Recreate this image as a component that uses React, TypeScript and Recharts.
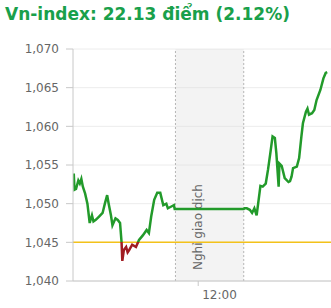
import { LineChart, Line, XAxis, YAxis, CartesianGrid, ReferenceLine, ReferenceArea } from 'recharts'

// intraday Vn-index, time of trade -> index points
const times = [
  '09:16', '09:17', '09:19', '09:22', '09:24', '09:26', '09:28', '09:31', '09:34', '09:37',
  '09:40', '09:42', '09:45', '09:49', '09:54', '09:57', '10:00', '10:02', '10:05', '10:07',
  '10:11', '10:14', '10:17', '10:19', '10:20', '10:22', '10:25', '10:27', '10:29', '10:33',
  '10:38', '10:42', '10:47', '10:52', '10:55', '10:58', '11:02', '11:06', '11:10', '11:14',
  '11:18', '11:20', '11:24', '11:28', '11:29', '11:30', '13:00', '13:01', '13:04', '13:08',
  '13:11', '13:14', '13:17', '13:19', '13:22', '13:25', '13:29', '13:32', '13:35', '13:38',
  '13:41', '13:43', '13:46', '13:47', '13:50', '13:54', '13:59', '14:01', '14:03', '14:05',
  '14:10', '14:13', '14:16', '14:18', '14:22', '14:24', '14:26', '14:30', '14:33', '14:36',
  '14:41', '14:45', '14:48', '14:50',
]
const points = [
  1053.9, 1051.8, 1051.9, 1053.0, 1052.6, 1053.2, 1052.2, 1051.3, 1050.0, 1047.5,
  1048.5, 1047.7, 1047.9, 1048.3, 1048.8, 1050.0, 1051.1, 1050.0, 1048.5, 1047.2,
  1048.1, 1047.9, 1047.5, 1045.0, 1042.6, 1044.0, 1044.4, 1043.7, 1044.0, 1044.7,
  1044.4, 1045.3, 1045.9, 1046.6, 1046.2, 1048.3, 1050.5, 1051.4, 1051.4, 1049.8,
  1050.0, 1049.4, 1049.6, 1049.8, 1049.3, 1049.3, 1049.3, 1049.4, 1049.4, 1049.2,
  1048.8, 1049.4, 1048.5, 1050.0, 1052.3, 1052.2, 1052.6, 1054.4, 1056.5, 1058.7,
  1058.5, 1056.5, 1052.2, 1055.2, 1054.9, 1053.3, 1052.8, 1052.9, 1053.5, 1054.6,
  1054.8, 1055.9, 1058.7, 1060.4, 1061.9, 1062.3, 1061.5, 1061.7, 1062.1, 1063.4,
  1064.7, 1066.2, 1066.9, 1067.0,
]
const refValue = 1045
const yTicks = [1040, 1045, 1050, 1055, 1060, 1065, 1070]
const xTickLabels = ['12:00']
const breakStart = '11:30'
const breakEnd = '13:00'
const breakLabel = 'Nghỉ giao dịch'
const title = 'Vn-index: 22.13 điểm (2.12%)'

const toMin = (s: string) => {
  const [h, m] = s.split(':').map(Number)
  return h * 60 + m
}

const data = times.map((t, i) => ({ t: toMin(t), v: points[i] }))
const maxV = Math.max(...points)
const minV = Math.min(...points)
const splitAt = (maxV - refValue) / (maxV - minV)

const FONT = '"DejaVu Sans", Verdana, sans-serif'

const TimeTick = (props: any) => {
  const { x, y, payload } = props
  const h = Math.floor(payload.value / 60)
  const m = payload.value % 60
  const label = `${String(h).padStart(2, '0')}:${String(m).padStart(2, '0')}`
  return (
    <text x={x + 4} y={y} dy={11} fill="#666" fontSize={12} fontFamily={FONT}>
      {label}
    </text>
  )
}

const BreakLabel = (props: any) => {
  const vb = props.viewBox || {}
  const tx = vb.x + 27
  const ty = vb.y + vb.height - 11
  return (
    <text x={tx} y={ty} transform={`rotate(-90 ${tx} ${ty})`} fill="#666" fontSize={12} fontFamily={FONT}>
      {breakLabel}
    </text>
  )
}

export default function App() {
  return (
    <div style={{ position: 'absolute', left: 0, top: 0, width: 331, height: 308, background: '#fff' }}>
      <div
        style={{
          position: 'absolute',
          left: 5,
          top: 4,
          fontFamily: FONT,
          fontWeight: 'bold',
          fontSize: 17,
          lineHeight: '20px',
          color: '#19a04b',
          whiteSpace: 'nowrap',
        }}
      >
        {title}
      </div>
      <div style={{ position: 'absolute', left: 0, top: 0 }}>
        <LineChart width={331} height={308} data={data} margin={{ top: 49, right: 0, left: 0, bottom: 7 }}>
          <defs>
            <linearGradient id="upDown" x1="0" y1="0" x2="0" y2="1">
              <stop offset={0} stopColor="#229a2a" />
              <stop offset={splitAt} stopColor="#229a2a" />
              <stop offset={splitAt} stopColor="#a11c22" />
              <stop offset={1} stopColor="#a11c22" />
            </linearGradient>
          </defs>
          <CartesianGrid vertical={false} stroke="#ececec" />
          <ReferenceArea
            x1={toMin(breakStart)}
            x2={toMin(breakEnd)}
            fill="#dcdcdc"
            fillOpacity={0.35}
            stroke="none"
            label={BreakLabel}
          />
          <ReferenceLine x={toMin(breakStart)} stroke="#b5b5b5" strokeDasharray="2 2" />
          <ReferenceLine x={toMin(breakEnd)} stroke="#b5b5b5" strokeDasharray="2 2" />
          <XAxis
            dataKey="t"
            type="number"
            domain={[555, 895]}
            ticks={xTickLabels.map(toMin)}
            height={20}
            tickSize={5}
            stroke="#c8c8c8"
            tick={<TimeTick />}
            allowDataOverflow
          />
          <YAxis
            domain={[1040, 1070]}
            ticks={yTicks}
            width={73}
            tickSize={7}
            tickMargin={7}
            stroke="#c8c8c8"
            tick={{ fill: '#666', fontSize: 12, fontFamily: FONT }}
            tickFormatter={(v: number) => v.toLocaleString('en-US')}
          />
          <ReferenceLine y={refValue} stroke="#f3c21a" strokeWidth={1.5} />
          <Line
            type="linear"
            dataKey="v"
            stroke="url(#upDown)"
            strokeWidth={2.5}
            dot={false}
            activeDot={false}
            isAnimationActive={false}
          />
        </LineChart>
      </div>
    </div>
  )
}
